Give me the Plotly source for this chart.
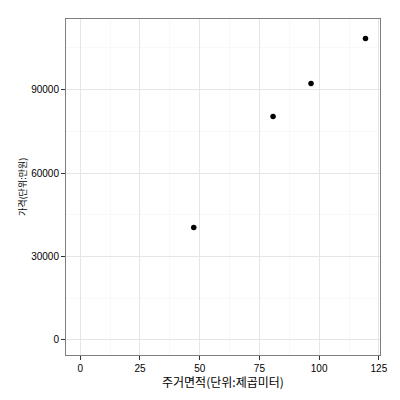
import plotly.graph_objects as go

area = [47.5, 80.7, 96.6, 119.4]
price = [40400, 80300, 92200, 108400]

x_ticks = [0, 25, 50, 75, 100, 125]
y_ticks = [0, 30000, 60000, 90000]

fig = go.Figure(go.Scatter(
    x=area, y=price, mode="markers",
    marker=dict(color="black", size=5.5, line=dict(width=0)),
))

axis_common = dict(
    showline=True, linecolor="#7f7f7f", linewidth=1, mirror=True,
    ticks="outside", ticklen=4, tickcolor="#333333", tickwidth=1,
    showgrid=True, gridcolor="#e5e5e5", gridwidth=1,
    zeroline=False, automargin=False,
    tickfont=dict(family="Liberation Sans, Arial", size=10, color="black"),
)

fig.update_layout(
    width=400, height=400,
    margin=dict(l=66, r=20, t=19, b=45),
    paper_bgcolor="white", plot_bgcolor="white",
    showlegend=False,
    xaxis=dict(
        range=[-5.975, 125.475], tickvals=x_ticks, ticktext=[str(v) for v in x_ticks],
        minor=dict(tickvals=[12.5, 37.5, 62.5, 87.5, 112.5], showgrid=True, gridcolor="#f8f8f8", ticklen=0),
        **axis_common,
    ),
    yaxis=dict(
        range=[-5450, 115400], tickvals=y_ticks, ticktext=[str(v) for v in y_ticks],
        minor=dict(tickvals=[15000, 45000, 75000, 105000], showgrid=True, gridcolor="#f8f8f8", ticklen=0),
        **axis_common,
    ),
    annotations=[
        dict(text="주거면적(단위:제곱미터)", xref="paper", yref="paper",
             x=0.5, y=-26 / 336, xanchor="center", yanchor="middle", showarrow=False,
             font=dict(family="Noto Sans CJK KR", size=12, color="black")),
        dict(text="가격(단위:만원)", xref="paper", yref="paper",
             x=-44 / 314, y=0.5, xanchor="center", yanchor="middle", showarrow=False,
             textangle=-90,
             font=dict(family="Noto Sans CJK KR", size=9, color="black")),
    ],
)

fig.write_html("out.html", config={"displayModeBar": False},
               post_script="document.body.style.margin='0';")
